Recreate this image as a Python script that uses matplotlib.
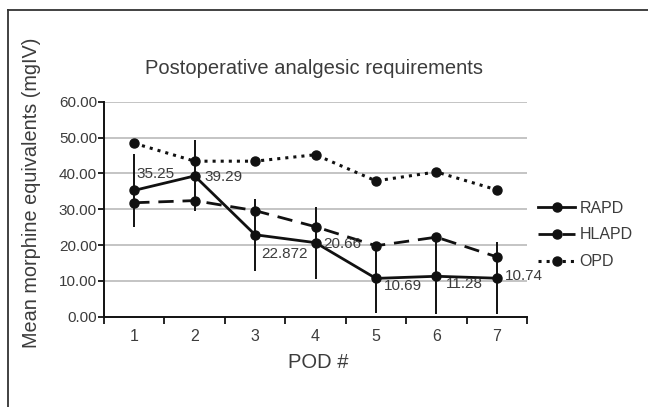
import numpy as np
import matplotlib
matplotlib.use("Agg")
import matplotlib.pyplot as plt
from matplotlib.lines import Line2D

# values
pod = [1, 2, 3, 4, 5, 6, 7]
rapd = [35.25, 39.29, 22.872, 20.66, 10.69, 11.28, 10.74]
rapd_err = [10.1, 9.9, 10.0, 10.0, 9.7, 10.5, 10.0]
hlapd = [31.8, 32.4, 29.6, 25.1, 19.8, 22.2, 16.7]
opd = [48.4, 43.4, 43.4, 45.2, 37.9, 40.4, 35.4]
rapd_labels = ["35.25", "39.29", "22.872", "20.66", "10.69", "11.28", "10.74"]
yticks = [0, 10, 20, 30, 40, 50, 60]

plt.rcParams["font.family"] = ["Liberation Sans", "DejaVu Sans"]
txt = "#3c3c3c"

fig = plt.figure(figsize=(6.48, 4.07), dpi=100)
ax = fig.add_axes([104 / 648, 1 - 316.7 / 407, 423 / 648, 215 / 407])

for y in yticks[1:]:
    ax.axhline(y, color="#c4c4c4", lw=1.4, zorder=0)

ax.errorbar(pod, rapd, yerr=rapd_err, fmt="none", ecolor="#111111", elinewidth=1.4, capsize=0, zorder=3)
ax.plot(pod, rapd, "-o", color="#111111", lw=2.0, ms=6.5, label="RAPD", zorder=4)
ax.plot(pod, hlapd, "--o", color="#111111", lw=2.0, ms=6.5, dashes=(5.5, 3.2), label="HLAPD", zorder=4)
ax.plot(pod, opd, ":o", color="#111111", lw=2.2, ms=6.5, label="OPD", zorder=4)

# data labels for RAPD, offsets in pixels like the Excel placement
offsets = [(2, 16), (10, -1), (6, -19), (8, -1), (8, -8), (10, -8), (8, 2)]
for x, y, s, (dx, dy) in zip(pod, rapd, rapd_labels, offsets):
    ax.annotate(s, (x, y), xytext=(dx, dy), textcoords="offset pixels",
                ha="left", va="center", fontsize=11, color=txt, zorder=5)

ax.set_xlim(0.5, 7.5)
ax.set_ylim(0, 60)
ax.set_yticks(yticks)
ax.set_yticklabels(["%.2f" % v for v in yticks])
ax.set_xticks(np.arange(0.5, 8, 1))
ax.set_xticklabels([])
ax.set_xticks(pod, minor=True)
ax.set_xticklabels([str(p) for p in pod], minor=True)
ax.tick_params(axis="x", which="minor", length=0, pad=9, labelsize=11.5, labelcolor=txt)
ax.tick_params(axis="x", which="major", length=5, width=1.2, direction="out")
ax.tick_params(axis="y", length=4, width=1.2, labelsize=11, labelcolor=txt, pad=1)
for s in ["top", "right"]:
    ax.spines[s].set_visible(False)
for s in ["left", "bottom"]:
    ax.spines[s].set_linewidth(1.4)
    ax.spines[s].set_color("#111111")

fig.text(314 / 648, 1 - 68 / 407, "Postoperative analgesic requirements",
         ha="center", va="center", fontsize=14.5, color=txt)
fig.text(32 / 648, 1 - 193 / 407, "Mean morphine equivalents (mgIV)",
         ha="center", va="center", rotation=90, fontsize=14.3, color=txt)
fig.text(318 / 648, 1 - 363 / 407, "POD #", ha="center", va="center", fontsize=14.5, color=txt)

leg = ax.legend(loc="center left", bbox_to_anchor=(1.0, 0.38), frameon=False,
                fontsize=11.5, handlelength=2.3, labelspacing=0.75, handletextpad=0.3,
                borderaxespad=0.3)
for t in leg.get_texts():
    t.set_color(txt)

# outer frame: only top and left edges fall inside the picture
fx, fy = 8 / 648, 1 - 10 / 407
fig.add_artist(Line2D([fx, 1.0], [fy, fy], transform=fig.transFigure, color="#333333", lw=1.3))
fig.add_artist(Line2D([fx, fx], [0.0, fy], transform=fig.transFigure, color="#333333", lw=1.3))

fig.savefig("out.png", dpi=100)
